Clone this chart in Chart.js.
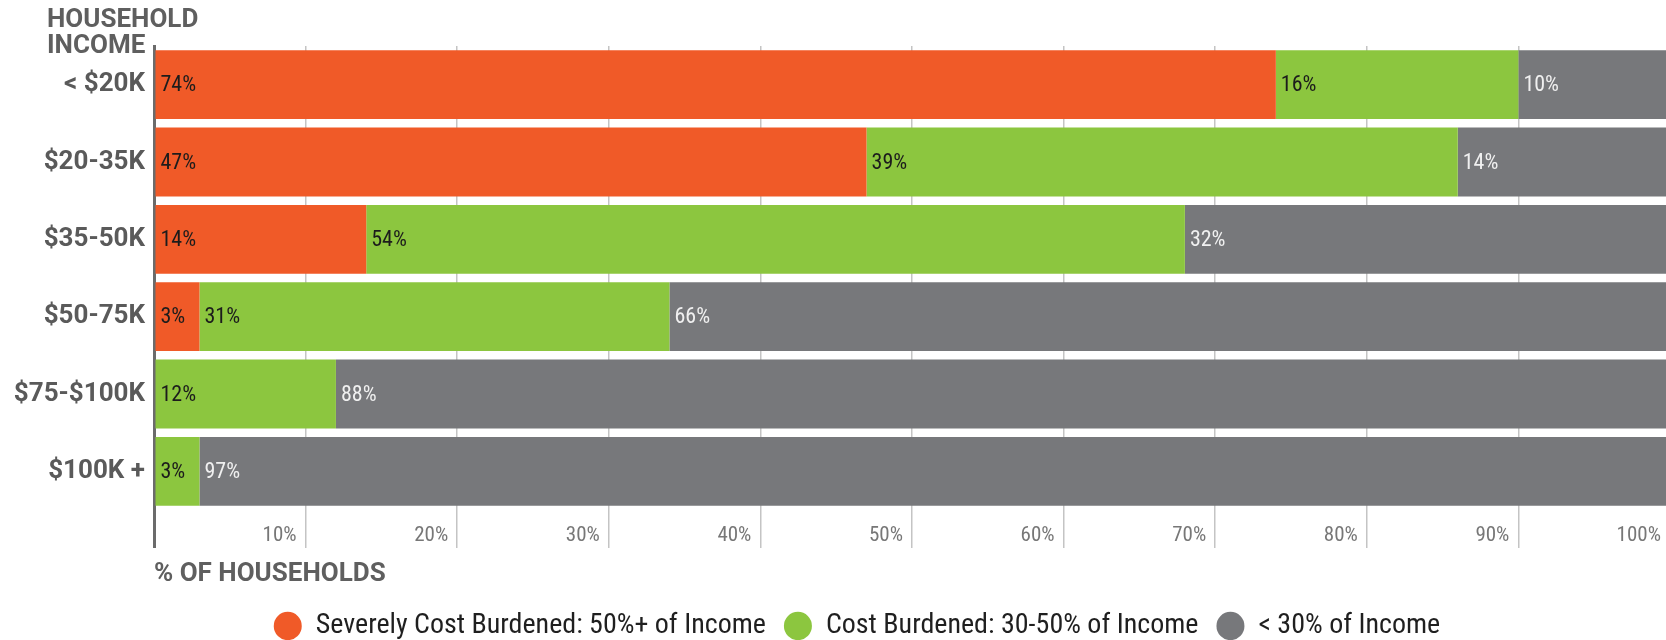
<!DOCTYPE html>
<html>
<head>
<meta charset="utf-8">
<script src="https://cdn.jsdelivr.net/npm/chart.js@4.4.1/dist/chart.umd.min.js"></script>
<style>
  html, body { margin: 0; padding: 0; background: #fff; overflow: hidden; }
  #wrap { width: 1714px; height: 640px; }
</style>
</head>
<body>
<div id="wrap"><canvas id="chart"></canvas></div>
<script>
const categories = ['< $20K', '$20-35K', '$35-50K', '$50-75K', '$75-$100K', '$100K +'];
const severe = [74, 47, 14, 3, 0, 0];
const burdened = [16, 39, 54, 31, 12, 3];
const under30 = [10, 14, 32, 66, 88, 97];
const seriesNames = ['Severely Cost Burdened: 50%+ of Income', 'Cost Burdened: 30-50% of Income', '< 30% of Income'];
const seriesColors = ['#f05a28', '#8cc63f', '#77787b'];
const yTitle = ['HOUSEHOLD', 'INCOME'];

// pick a narrow face if one is installed, otherwise plain Roboto
function pickFont(list) {
    const c = document.createElement('canvas').getContext('2d');
    const sample = 'Severely Cost 50%';
    c.font = '40px monospace';
    const base = c.measureText(sample).width;
    for (const f of list) {
        c.font = '40px "' + f + '", monospace';
        if (c.measureText(sample).width !== base) return f;
    }
    return 'Roboto';
}
const narrow = pickFont(['Roboto Condensed', 'DejaVu Sans Condensed', 'Liberation Sans Narrow', 'Arial Narrow']);

Chart.defaults.font.family = 'Roboto';

// value text at the start of every non-empty segment
const segmentLabels = {
    id: 'segmentLabels',
    afterDatasetsDraw(chart) {
        const { ctx } = chart;
        ctx.save();
        ctx.font = '22px "' + narrow + '"';
        ctx.textBaseline = 'middle';
        ctx.textAlign = 'left';
        chart.data.datasets.forEach((ds, di) => {
            const meta = chart.getDatasetMeta(di);
            meta.data.forEach((bar, i) => {
                const v = ds.data[i];
                if (!v) return;
                ctx.fillStyle = di === 2 ? '#f0f0f0' : '#1c1c1c';
                ctx.fillText(v + '%', Math.min(bar.base, bar.x) + 5, bar.y + 1);
            });
        });
        ctx.restore();
    }
};

// the category axis caption sits above the axis, left aligned
const axisCaption = {
    id: 'axisCaption',
    afterDraw(chart) {
        const { ctx } = chart;
        ctx.save();
        ctx.font = 'bold 26px Roboto';
        ctx.fillStyle = '#5f5f5f';
        ctx.textAlign = 'left';
        ctx.textBaseline = 'alphabetic';
        yTitle.forEach((line, i) => ctx.fillText(line, 47, 27 + i * 26));
        ctx.restore();
    }
};

new Chart(document.getElementById('chart'), {
    type: 'bar',
    data: {
        labels: categories,
        datasets: [
            { label: seriesNames[0], data: severe, backgroundColor: seriesColors[0] },
            { label: seriesNames[1], data: burdened, backgroundColor: seriesColors[1] },
            { label: seriesNames[2], data: under30, backgroundColor: seriesColors[2] },
        ],
    },
    options: {
        indexAxis: 'y',
        responsive: true,
        maintainAspectRatio: false,
        animation: false,
        categoryPercentage: 1,
        barPercentage: 0.89,
        borderWidth: 0,
        layout: { padding: { left: 0, right: 0, top: 46, bottom: -10 } },
        scales: {
            x: {
                type: 'linear',
                stacked: true,
                min: 0,
                max: 100,
                border: { display: false },
                grid: {
                    color: (c) => c.tick && c.tick.value === 0 ? '#6b6b6b' : '#c4c4c4',
                    lineWidth: (c) => c.tick && c.tick.value === 0 ? 3 : 1.5,
                    tickLength: 38,
                },
                ticks: {
                    stepSize: 10,
                    align: 'end',
                    labelOffset: -9,
                    padding: -25,
                    color: '#777',
                    font: { family: narrow, size: 21 },
                    callback: (v) => v === 0 ? '' : v + '%',
                },
                title: {
                    display: true,
                    text: '% OF HOUSEHOLDS',
                    align: 'start',
                    color: '#5f5f5f',
                    font: { size: 26, weight: 'bold' },
                    padding: { top: 0, bottom: 4 },
                },
                afterFit: (scale) => { scale.height = 84; },
            },
            y: {
                stacked: true,
                z: 1,
                grid: { display: false, drawTicks: false },
                border: { display: true, color: '#6b6b6b', width: 3 },
                ticks: {
                    color: '#5a5a5a',
                    padding: 9,
                    font: { size: 26, weight: 'bold' },
                },
                afterFit: (scale) => { scale.width = 154; },
            },
            // empty strip on the right so the plot runs off the picture edge
            pad: {
                type: 'category',
                axis: 'y',
                position: 'right',
                grid: { display: false, drawTicks: false },
                border: { display: false },
                ticks: { display: false },
                afterFit: (scale) => { scale.width = 44; },
            },
        },
        plugins: {
            legend: {
                position: 'bottom',
                labels: {
                    usePointStyle: true,
                    pointStyle: 'circle',
                    pointStyleWidth: 28,
                    boxHeight: 20,
                    padding: 18,
                    color: '#1f1f1f',
                    font: { family: narrow, size: 28 },
                },
            },
            tooltip: { enabled: false },
        },
    },
    plugins: [segmentLabels, axisCaption],
});
</script>
</body>
</html>
